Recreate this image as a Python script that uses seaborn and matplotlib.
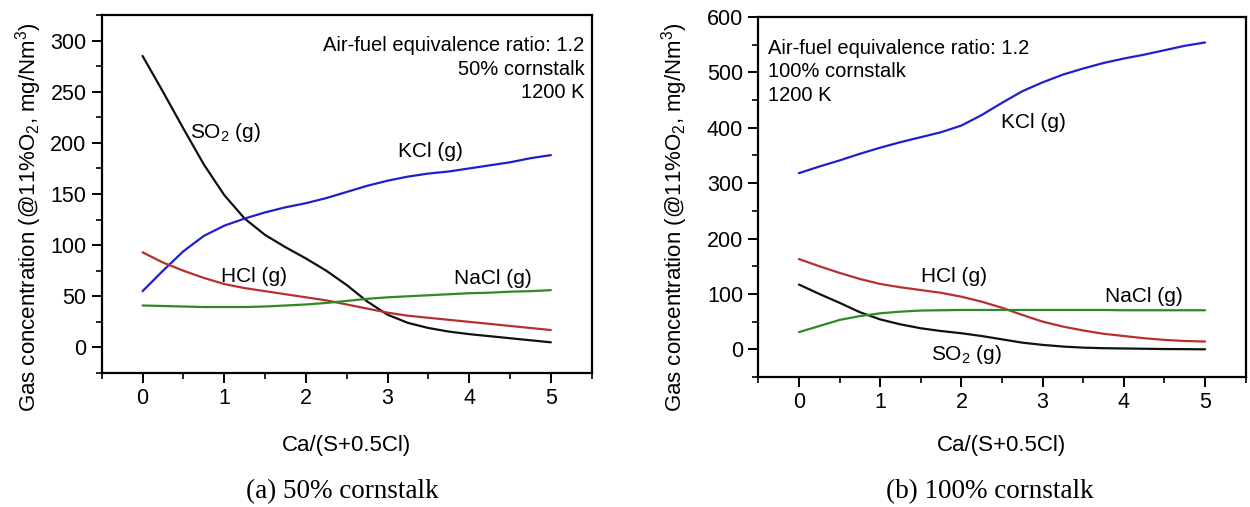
import numpy as np
import pandas as pd
import matplotlib
matplotlib.use("Agg")
import matplotlib.pyplot as plt
from matplotlib.ticker import MultipleLocator
import seaborn as sns

# ---------------- data ----------------
ratio = [0, 0.25, 0.5, 0.75, 1, 1.25, 1.5, 1.75, 2, 2.25, 2.5, 2.75,
         3, 3.25, 3.5, 3.75, 4, 4.25, 4.5, 4.75, 5]

# (a) 50% cornstalk
a_so2 = [285, 250, 214, 179, 149, 126, 110, 98, 87, 75, 61, 45,
         32, 24, 19, 15.5, 13, 11, 9, 7, 5]
a_kcl = [55, 75, 94, 109, 119, 126, 132, 137, 141, 146, 152, 158,
         163, 167, 170, 172, 175, 178, 181, 185, 188]
a_hcl = [93, 83, 75, 68, 62, 58, 55, 52, 49, 46, 42, 38,
         34, 31, 29, 27, 25, 23, 21, 19, 17]
a_nacl = [41, 40.5, 40, 39.5, 39.5, 39.5, 40, 41, 42, 43.5, 45.5, 47.5,
          49, 50, 51, 52, 53, 53.5, 54.5, 55, 56]

# (b) 100% cornstalk
b_so2 = [117, 100, 84, 67, 54, 45, 38, 33, 29, 24, 18, 12,
         8, 5, 3, 2, 1.5, 1, 0.5, 0.3, 0]
b_kcl = [318, 330, 341, 353, 364, 374, 383, 392, 404, 423, 445, 466,
         482, 496, 507, 517, 525, 532, 540, 548, 554]
b_hcl = [163, 150, 138, 127, 118, 112, 107, 102, 95, 86, 75, 62,
         50, 41, 34, 28, 24, 20, 17, 15, 14]
b_nacl = [31, 42, 53, 60, 65, 68, 70, 70.5, 71, 71, 71, 71,
          71, 71, 71, 71, 70.5, 70.5, 70.5, 70.5, 70.5]

species = ["SO2", "KCl", "HCl", "NaCl"]
colors = {"SO2": "#111111", "KCl": "#1f1fd0", "HCl": "#b8302e", "NaCl": "#2f8a25"}

xlabel = "Ca/(S+0.5Cl)"
ylabel = "Gas concentration (@11%O$_2$, mg/Nm$^3$)"
note_a = "Air-fuel equivalence ratio: 1.2\n50% cornstalk\n1200 K"
note_b = "Air-fuel equivalence ratio: 1.2\n100% cornstalk\n1200 K"
caption_a = "(a) 50% cornstalk"
caption_b = "(b) 100% cornstalk"


def long_df(so2, kcl, hcl, nacl):
    frames = []
    for name, vals in zip(species, [so2, kcl, hcl, nacl]):
        frames.append(pd.DataFrame({"ratio": ratio, "conc": vals, "species": name}))
    return pd.concat(frames, ignore_index=True)


df_a = long_df(a_so2, a_kcl, a_hcl, a_nacl)
df_b = long_df(b_so2, b_kcl, b_hcl, b_nacl)

# ---------------- style ----------------
sns.set_theme(style="ticks")
plt.rcParams["font.family"] = ["Liberation Sans", "DejaVu Sans"]
plt.rcParams["mathtext.fontset"] = "custom"
plt.rcParams["mathtext.rm"] = "Liberation Sans"
plt.rcParams["mathtext.it"] = "Liberation Sans"
plt.rcParams["mathtext.default"] = "regular"
plt.rcParams["text.color"] = "black"
plt.rcParams["axes.labelcolor"] = "black"
plt.rcParams["xtick.color"] = "black"
plt.rcParams["ytick.color"] = "black"

fig = plt.figure(figsize=(12.5, 5.07), dpi=100)
ax_a = fig.add_axes([101.7 / 1250, 1 - 373 / 507, 490 / 1250, 358 / 507])
ax_b = fig.add_axes([758.3 / 1250, 1 - 377 / 507, 487.4 / 1250, 360 / 507])


def style_axes(ax, ylim, ymaj, ymin):
    ax.set_xlim(-0.5, 5.5)
    ax.set_ylim(*ylim)
    ax.xaxis.set_major_locator(MultipleLocator(1))
    ax.xaxis.set_minor_locator(MultipleLocator(0.5))
    ax.yaxis.set_major_locator(MultipleLocator(ymaj))
    ax.yaxis.set_minor_locator(MultipleLocator(ymin))
    ax.tick_params(which="major", direction="out", length=7, width=1.4,
                   labelsize=15.5, colors="black", pad=4)
    ax.tick_params(which="minor", direction="out", length=4, width=1.2, colors="black")
    ax.tick_params(top=False, right=False, which="both")
    for s in ax.spines.values():
        s.set_visible(True)
        s.set_linewidth(1.6)
        s.set_color("black")
    ax.set_xlabel("")
    ax.set_ylabel("")


sns.lineplot(data=df_a, x="ratio", y="conc", hue="species", palette=colors,
             linewidth=1.6, ax=ax_a, legend=False)
sns.lineplot(data=df_b, x="ratio", y="conc", hue="species", palette=colors,
             linewidth=1.6, ax=ax_b, legend=False)

style_axes(ax_a, (-25, 325), 50, 25)
style_axes(ax_b, (-50, 600), 100, 50)

# notes
ax_a.text(0.985, 0.94, note_a, transform=ax_a.transAxes, ha="right", va="top",
          fontsize=14.5, linespacing=1.3, color="black")
ax_b.text(0.02, 0.94, note_b, transform=ax_b.transAxes, ha="left", va="top",
          fontsize=14.5, linespacing=1.3, color="black")

# curve labels (a)
lab_fs = 15
ax_a.text(1.01, 210, "SO$_2$ (g)", ha="center", va="center", fontsize=lab_fs)
ax_a.text(3.53, 192, "KCl (g)", ha="center", va="center", fontsize=lab_fs)
ax_a.text(1.36, 69, "HCl (g)", ha="center", va="center", fontsize=lab_fs)
ax_a.text(4.29, 67, "NaCl (g)", ha="center", va="center", fontsize=lab_fs)
# curve labels (b)
ax_b.text(2.89, 410, "KCl (g)", ha="center", va="center", fontsize=lab_fs)
ax_b.text(1.91, 132, "HCl (g)", ha="center", va="center", fontsize=lab_fs)
ax_b.text(4.25, 96, "NaCl (g)", ha="center", va="center", fontsize=lab_fs)
ax_b.text(2.06, -10, "SO$_2$ (g)", ha="center", va="center", fontsize=lab_fs)

# axis labels
fig.text(29 / 1250, 1 - 217 / 507, ylabel, rotation=90, ha="center", va="center", fontsize=16)
fig.text(675 / 1250, 1 - 217 / 507, ylabel, rotation=90, ha="center", va="center", fontsize=16)
fig.text(346.7 / 1250, 1 - 446 / 507, xlabel, ha="center", va="center", fontsize=16)
fig.text(1002 / 1250, 1 - 446 / 507, xlabel, ha="center", va="center", fontsize=16)

# captions
fig.text(342 / 1250, 1 - 492 / 507, caption_a, ha="center", va="center",
         fontsize=19.5, family=["Liberation Serif", "DejaVu Serif"])
fig.text(990 / 1250, 1 - 492 / 507, caption_b, ha="center", va="center",
         fontsize=19.5, family=["Liberation Serif", "DejaVu Serif"])

fig.savefig("out.png", dpi=100, facecolor="white")
